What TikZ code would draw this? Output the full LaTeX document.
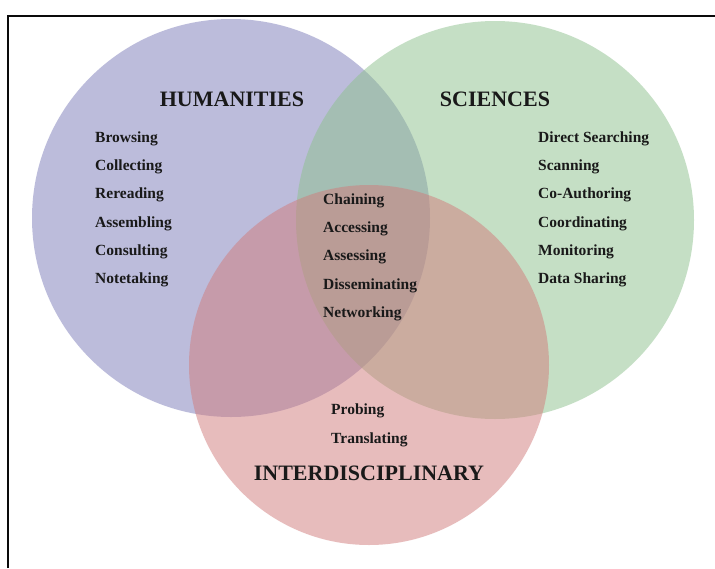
\documentclass[tikz,border=0pt]{standalone}
\usepackage{fontspec}
\setmainfont{Liberation Serif}
\definecolor{humcol}{RGB}{123,123,185}
\definecolor{scicol}{RGB}{141,193,141}
\definecolor{intcol}{RGB}{209,123,123}
\definecolor{framecol}{RGB}{10,10,10}
\begin{document}
\begin{tikzpicture}[x=1pt,y=-1pt,
  setfill/.style={fill=#1,fill opacity=0.5},
  title/.style={anchor=base,inner sep=0pt,font=\fontsize{22}{26}\selectfont\bfseries,text=black!90},
  item/.style={anchor=base west,inner sep=0pt,font=\fontsize{15.5}{18}\selectfont\bfseries,text=black!90}]
\useasboundingbox (0,0) rectangle (715,568);
\fill[white] (0,0) rectangle (715,568);
% outer frame (top and left edges)
\draw[framecol,line width=2pt] (7.5,568) -- (7.5,15.5) -- (715,15.5);
% the three sets
\fill[setfill=humcol] (231,218) circle[radius=199];
\fill[setfill=scicol] (495,220) circle[radius=199];
\fill[setfill=intcol] (369,365) circle[radius=180];
% set titles
\node[title] (humT) at (232,106) {HUMANITIES};
\node[title] (sciT) at (495,106) {SCIENCES};
\node[title] (intT) at (369,480) {INTERDISCIPLINARY};
% humanities activities
\node[item] (h1) at (95,142) {Browsing};
\node[item] (h2) at (95,170) {Collecting};
\node[item] (h3) at (95,198.5) {Rereading};
\node[item] (h4) at (95,227) {Assembling};
\node[item] (h5) at (95,255) {Consulting};
\node[item] (h6) at (95,283) {Notetaking};
% sciences activities
\node[item] (s1) at (538,142) {Direct Searching};
\node[item] (s2) at (538,170) {Scanning};
\node[item] (s3) at (538,198.5) {Co-Authoring};
\node[item] (s4) at (538,227) {Coordinating};
\node[item] (s5) at (538,255) {Monitoring};
\node[item] (s6) at (538,283) {Data Sharing};
% shared activities
\node[item] (c1) at (323,204) {Chaining};
\node[item] (c2) at (323,232) {Accessing};
\node[item] (c3) at (323,260.5) {Assessing};
\node[item] (c4) at (323,289) {Disseminating};
\node[item] (c5) at (323,317) {Networking};
% interdisciplinary activities
\node[item] (i1) at (331,414) {Probing};
\node[item] (i2) at (331,443) {Translating};
\end{tikzpicture}
\end{document}
